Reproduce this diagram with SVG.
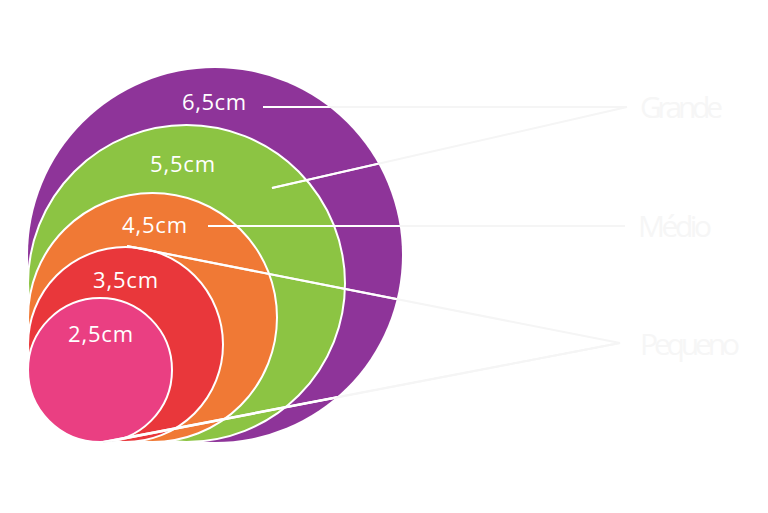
<svg xmlns="http://www.w3.org/2000/svg" width="768" height="513" viewBox="0 0 768 513">
  <style>
    .disc { stroke: #ffffff; stroke-width: 2; }
    .size { font-family: "Open Sans", "Noto Sans", sans-serif; font-size: 22px; fill: #ffffff; }
    .cat { font-family: "Open Sans", "Noto Sans", sans-serif; font-size: 30px; fill: #f6f6f6; }
    .faint { stroke: #f5f5f5; stroke-width: 2; fill: none; }
    .solid { stroke: #ffffff; stroke-width: 2; fill: none; }
  </style>
  <defs>
    <clipPath id="discs">
      <circle cx="215" cy="255" r="187"/>
      <circle cx="186.5" cy="283.5" r="158.5"/>
      <circle cx="152.5" cy="317.5" r="124.5"/>
      <circle cx="125.5" cy="344.5" r="97.5"/>
      <circle cx="100" cy="370" r="72"/>
    </clipPath>
  </defs>
  <rect width="768" height="513" fill="#ffffff"/>

  <g id="disc-65">
    <circle cx="215" cy="255" r="187" fill="#8e3499"/>
  </g>
  <g id="disc-55">
    <circle class="disc" cx="186.5" cy="283.5" r="158.5" fill="#8cc443"/>
  </g>
  <g id="disc-45">
    <circle class="disc" cx="152.5" cy="317.5" r="124.5" fill="#f07935"/>
  </g>
  <g id="disc-35">
    <circle class="disc" cx="125.5" cy="344.5" r="97.5" fill="#e9373b"/>
  </g>
  <g id="disc-25">
    <circle class="disc" cx="100" cy="370" r="72" fill="#ea3f82"/>
  </g>

  <g id="connectors">
    <g>
      <line class="faint" x1="263" y1="107" x2="627" y2="107"/>
      <line class="faint" x1="272" y1="188" x2="627" y2="107"/>
      <line class="faint" x1="208" y1="226" x2="625" y2="226"/>
      <line class="faint" x1="127" y1="246" x2="620" y2="343"/>
      <line class="faint" x1="103" y1="442" x2="620" y2="343"/>
      <line class="faint" x1="112" y1="441" x2="620" y2="343"/>
    </g>
    <g clip-path="url(#discs)">
      <line class="solid" x1="263" y1="107" x2="627" y2="107"/>
      <line class="solid" x1="272" y1="188" x2="627" y2="107"/>
      <line class="solid" x1="208" y1="226" x2="625" y2="226"/>
      <line class="solid" x1="127" y1="246" x2="620" y2="343"/>
      <line class="solid" x1="103" y1="442" x2="620" y2="343"/>
      <line class="solid" x1="112" y1="441" x2="620" y2="343"/>
    </g>
  </g>

  <g id="label-65"><text class="size" x="182" y="110" textLength="64">6,5cm</text></g>
  <g id="label-55"><text class="size" x="150" y="172" textLength="65">5,5cm</text></g>
  <g id="label-45"><text class="size" x="122" y="233" textLength="65">4,5cm</text></g>
  <g id="label-35"><text class="size" x="93" y="288" textLength="65">3,5cm</text></g>
  <g id="label-25"><text class="size" x="68" y="342" textLength="65">2,5cm</text></g>

  <g id="cat-grande"><text class="cat" x="640" y="118" textLength="83">Grande</text></g>
  <g id="cat-medio"><text class="cat" x="638" y="237" textLength="74">Médio</text></g>
  <g id="cat-pequeno"><text class="cat" x="640" y="355" textLength="100">Pequeno</text></g>
</svg>
